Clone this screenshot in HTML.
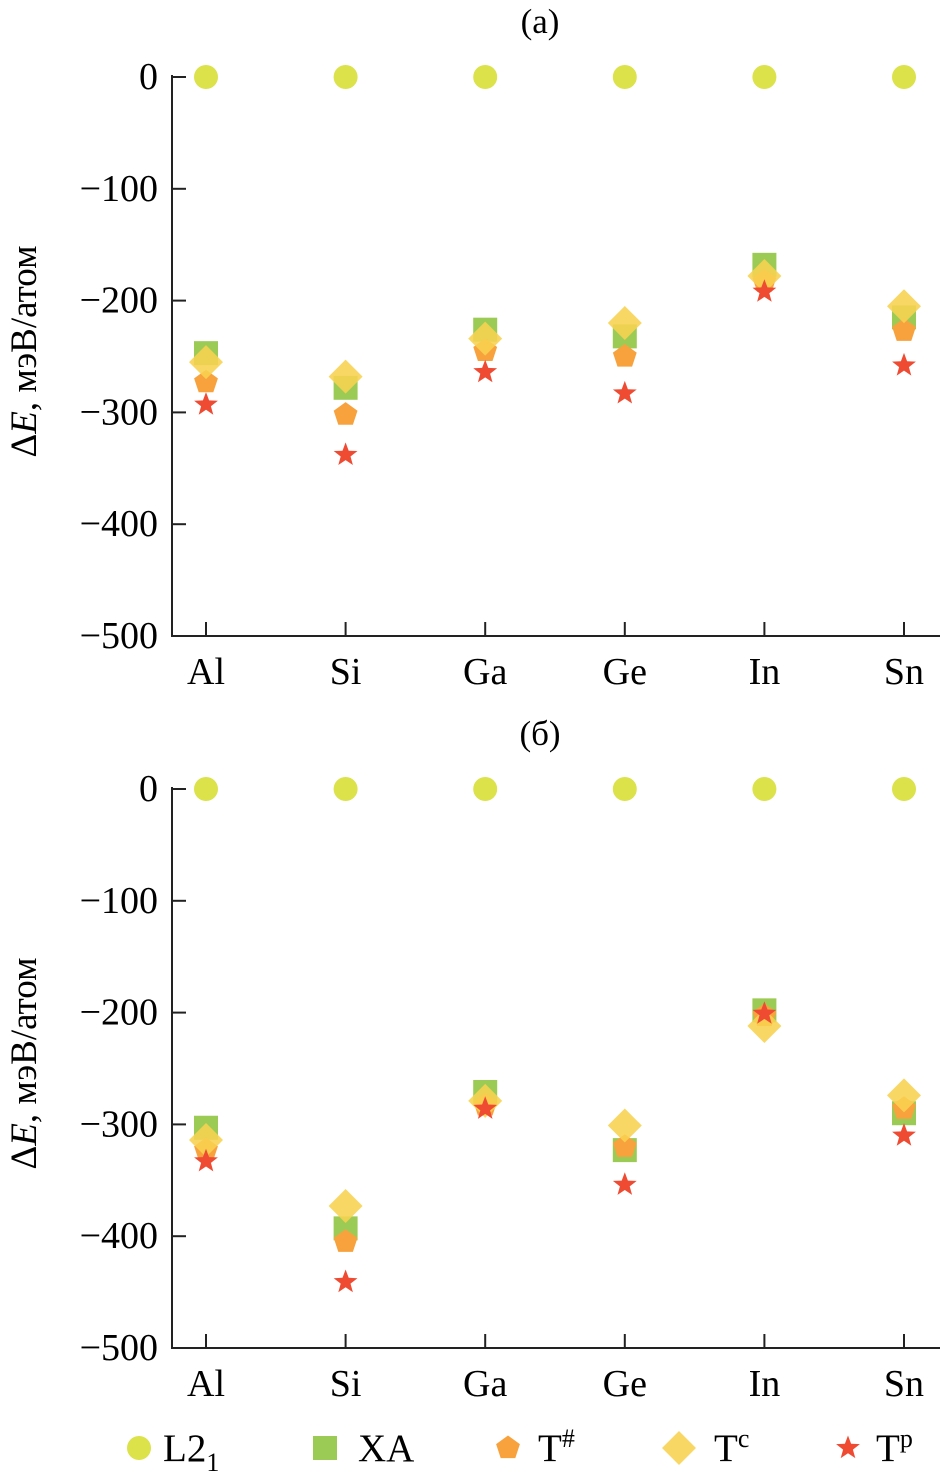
<!DOCTYPE html>
<html><head><meta charset="utf-8"><style>
html,body{margin:0;padding:0;background:#fff}
svg{display:block;font-family:"Liberation Serif","DejaVu Serif",serif}
</style></head><body>
<svg id="chart" width="942" height="1483" viewBox="0 0 942 1483" xmlns="http://www.w3.org/2000/svg"></svg>
<script>
const categories = ["Al","Si","Ga","Ge","In","Sn"];
const yTicks = [0,-100,-200,-300,-400,-500];
const seriesNames = ["L2","XA","Th","Tc","Tp"];
const aL2 = [0,0,0,0,0,0];
const aXA = [-247,-278,-226,-232,-168,-215];
const aTh = [-273,-302,-245,-250,-183,-227];
const aTc = [-255,-268,-234,-220,-178,-205];
const aTp = [-293,-338,-264,-283,-192,-258];
const bL2 = [0,0,0,0,0,0];
const bXA = [-303,-393,-271,-323,-198,-290];
const bTh = [-323,-405,-283,-320,-203,-286];
const bTc = [-314,-373,-279,-301,-212,-274];
const bTp = [-333,-441,-286,-354,-201,-310];

const NS="http://www.w3.org/2000/svg";
const svg=document.getElementById('chart');
function mk(tag,attrs,parent){const e=document.createElementNS(NS,tag);for(const k in attrs)e.setAttribute(k,attrs[k]);(parent||svg).appendChild(e);return e;}
const colors={L2:"#dbe24a",XA:"#9ccb55",Th:"#f8a23e",Tc:"#f8d250",Tp:"#ef4b32"};
function marker(type,x,y,g){
  let e;
  if(type==="L2") e=mk('circle',{cx:x,cy:y,r:12,fill:colors.L2},g);
  else if(type==="XA") e=mk('rect',{x:x-12,y:y-12,width:24,height:24,fill:colors.XA},g);
  else if(type==="Th"){let p=[];for(let i=0;i<5;i++){const a=-Math.PI/2+i*2*Math.PI/5;p.push((x+12.5*Math.cos(a)).toFixed(1)+","+(y+12.5*Math.sin(a)).toFixed(1));}
    e=mk('polygon',{points:p.join(" "),fill:colors.Th},g);}
  else if(type==="Tc") e=mk('polygon',{points:`${x},${y-17} ${x+17},${y} ${x},${y+17} ${x-17},${y}`,fill:colors.Tc,'fill-opacity':0.88},g);
  else {let p=[];for(let i=0;i<10;i++){const a=-Math.PI/2+i*Math.PI/5;const r=i%2?5.2:12.5;p.push((x+r*Math.cos(a)).toFixed(1)+","+(y+r*Math.sin(a)).toFixed(1));}
    e=mk('polygon',{points:p.join(" "),fill:colors.Tp},g);}
  return e;
}
function panel(id,title,y0,y500,data){
  const g=mk('g',{});
  
  
  const yS=v=>y0+(v/-500)*(y500-y0);
  const xS=i=>206+i*139.6;
  const t=mk('text',{x:540,y:y0-44,'font-size':35,'text-anchor':'middle'},g);t.textContent=title;
  
  const ax=mk('path',{d:`M172,${y0-2}V${y500}H940`,stroke:'#222','stroke-width':2,fill:'none'},g);
  
  yTicks.forEach(v=>{const y=yS(v);mk('line',{x1:172,x2:186,y1:y,y2:y,stroke:'#222','stroke-width':2},g);
    const tx=mk('text',{x:158,y:y+12,'font-size':38,'text-anchor':'end'},g);tx.textContent=v===0?"0":"\u2212"+(-v);
    });
  categories.forEach((c,i)=>{const x=xS(i);mk('line',{x1:x,x2:x,y1:y500,y2:y500-14,stroke:'#222','stroke-width':2},g);
    const tx=mk('text',{x:x,y:y500+48,'font-size':38,'text-anchor':'middle'},g);tx.textContent=c;
    });
  const yt=mk('text',{transform:`translate(36,${(y0+y500)/2-5}) rotate(-90)`,'font-size':37,'text-anchor':'middle'},g);
  yt.innerHTML='\u0394<tspan font-style="italic">E</tspan>, мэВ/атом';
  
  seriesNames.forEach((s,k)=>{data[k].forEach((v,i)=>{const m=marker(s,xS(i),yS(v),g);
    
    });});
}
panel('a','(a)',77,636,[aL2,aXA,aTh,aTc,aTp]);
panel('b','(б)',789,1348,[bL2,bXA,bTh,bTc,bTp]);
const lg=mk('g',{});


const leg=[["L2",139,'L2<tspan baseline-shift="-10" font-size="26">1</tspan>',163],["XA",325,'XA',358],["Th",508,'T<tspan baseline-shift="14" font-size="26">#</tspan>',538],["Tc",679,'T<tspan baseline-shift="14" font-size="26">c</tspan>',714],["Tp",848,'T<tspan baseline-shift="14" font-size="26">p</tspan>',876]];
leg.forEach(l=>{const m=marker(l[0],l[1],1448,lg);
  
  
  const t=mk('text',{x:l[3],y:1461,'font-size':39},lg);t.innerHTML=l[2];
  
  });
</script>
</body></html>
